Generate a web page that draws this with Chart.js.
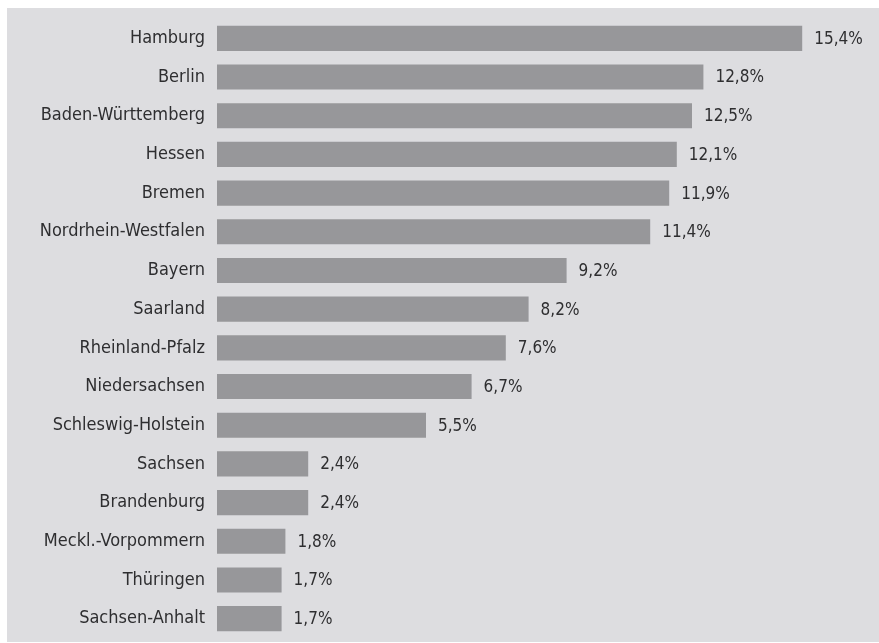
<!DOCTYPE html>
<html>
<head>
<meta charset="utf-8">
<script src="https://cdn.jsdelivr.net/npm/chart.js@4"></script>
<style>
  html, body { margin: 0; padding: 0; background: #fff; }
  #wrap { width: 879px; height: 643px; position: relative; }
</style>
</head>
<body>
<div id="wrap"><canvas id="barChart" width="879" height="643"></canvas></div>
<script>
// Bundesländer und Anteile (%)
const laender = ['Hamburg', 'Berlin', 'Baden-Württemberg', 'Hessen', 'Bremen', 'Nordrhein-Westfalen',
  'Bayern', 'Saarland', 'Rheinland-Pfalz', 'Niedersachsen', 'Schleswig-Holstein', 'Sachsen',
  'Brandenburg', 'Meckl.-Vorpommern', 'Thüringen', 'Sachsen-Anhalt'];
const anteile = [15.4, 12.8, 12.5, 12.1, 11.9, 11.4, 9.2, 8.2, 7.6, 6.7, 5.5, 2.4, 2.4, 1.8, 1.7, 1.7];

const FONT = '"Liberation Sans Narrow", "DejaVu Sans Condensed", "Roboto", sans-serif';

// grauer Hintergrund
const panelBg = {
  id: 'panelBg',
  beforeDraw(chart) {
    const c = chart.ctx;
    c.save();
    c.fillStyle = '#dddde0';
    c.fillRect(7, 8, chart.width - 7, chart.height - 9);
    c.restore();
  }
};

// Werte rechts neben den Balken
const valueLabels = {
  id: 'valueLabels',
  afterDatasetsDraw(chart) {
    const c = chart.ctx;
    const meta = chart.getDatasetMeta(0);
    c.save();
    c.font = '17px ' + FONT;
    c.fillStyle = '#2e2e30';
    c.textBaseline = 'middle';
    c.textAlign = 'left';
    meta.data.forEach((bar, i) => {
      const txt = anteile[i].toFixed(1).replace('.', ',') + '%';
      c.fillText(txt, bar.x + 12, bar.y + 1);
    });
    c.restore();
  }
};

const ctx = document.getElementById('barChart').getContext('2d');
new Chart(ctx, {
  type: 'bar',
  data: {
    labels: laender,
    datasets: [{
      data: anteile,
      backgroundColor: '#97979a',
      borderWidth: 0,
      barPercentage: 0.8,
      categoryPercentage: 0.81
    }]
  },
  options: {
    indexAxis: 'y',
    responsive: false,
    animation: false,
    layout: { padding: { top: 19, bottom: 5, left: 0, right: 16 } },
    scales: {
      x: {
        display: false,
        min: 0,
        max: 17
      },
      y: {
        grid: { display: false, drawTicks: false },
        border: { display: false },
        ticks: {
          color: '#2e2e30',
          padding: 12,
          font: { family: FONT, size: 18 }
        },
        afterFit(scale) {
          scale.width = 217;
          scale.paddingTop = 0;
          scale.paddingBottom = 0;
        }
      }
    },
    plugins: {
      legend: { display: false },
      tooltip: { enabled: false }
    }
  },
  plugins: [panelBg, valueLabels]
});
</script>
</body>
</html>
